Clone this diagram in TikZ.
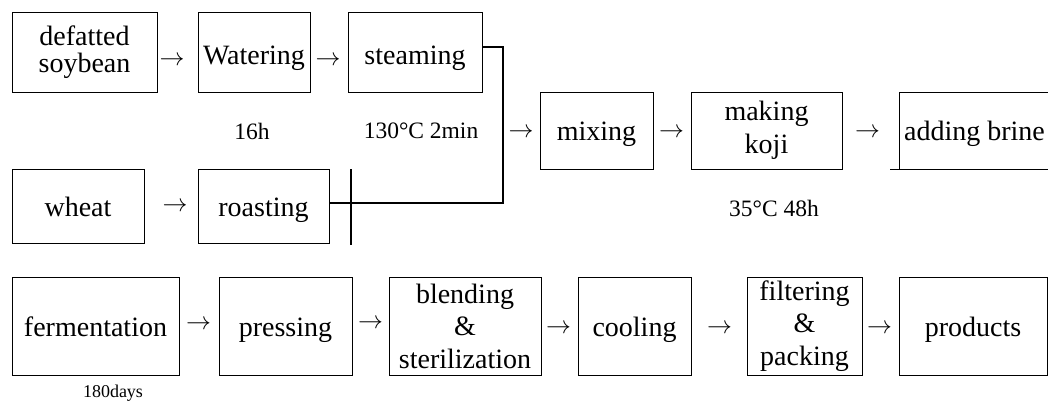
\documentclass[tikz,border=0pt]{standalone}
\usepackage{fontspec}
\setmainfont{Liberation Serif}
\usetikzlibrary{positioning}

\begin{document}
\begin{tikzpicture}[x=1pt,y=-1pt,
    box/.style={draw,line width=0.9pt,inner sep=0pt,align=center,
        font=\fontsize{28}{27}\selectfont},
    one/.style={text height=20pt,text depth=0pt},
    tall/.style={font=\fontsize{28}{32.5}\selectfont},
    lbl/.style={inner sep=0pt,font=\fontsize{23.5}{26}\selectfont},
    arr/.style={inner sep=0pt,font=\fontsize{24}{24}\selectfont},
    bar/.style={line width=2.2pt}]
    \useasboundingbox (0,0) rectangle (1048,401);
    % soybean and wheat lines
    \node[box,minimum width=145pt,minimum height=80pt] (soy) at (84.5,52) {defatted\\soybean};
    \node[box,one,text height=26pt,minimum width=112pt,minimum height=80pt] (water) at (254,52) {Watering};
    \node[box,one,text height=26pt,minimum width=134pt,minimum height=80pt] (steam) at (415,52) {steaming};
    \node[box,one,minimum width=132pt,minimum height=74pt] (wheat) at (78,206) {wheat};
    \node[box,one,minimum width=131pt,minimum height=74pt] (roast) at (263.5,206) {roasting};
    % koji line
    \node[box,one,minimum width=113pt,minimum height=77pt] (mix) at (596.5,130.5) {mixing};
    \node[box,tall,minimum width=151pt,minimum height=77pt] (koji) at (766.5,130.5) {making\\koji};
    \node[box,one,minimum width=151pt,minimum height=77pt] (brine) at (974.5,130.5) {adding brine};
    \draw[line width=0.9pt] (brine.south west) -- ++(-9,0);
    % bottom line
    \node[box,one,minimum width=167pt,minimum height=98pt] (ferment) at (95.5,326) {fermentation};
    \node[box,one,minimum width=133pt,minimum height=98pt] (press) at (285.5,326) {pressing};
    \node[box,tall,minimum width=152pt,minimum height=98pt] (blend) at (465,326) {blending\\\&\\sterilization};
    \node[box,one,minimum width=113pt,minimum height=98pt] (cool) at (634.5,326) {cooling};
    \node[box,tall,minimum width=115pt,minimum height=98pt] (filter) at (804.5,326) {filtering\\\&\\packing};
    \node[box,one,minimum width=148pt,minimum height=98pt] (product) at (973,326) {products};
    % arrows
    \foreach \n/\x/\y in {1/172/61, 2/328/61, 3/175/207, 4/521/133, 5/671.5/133,
        6/867.5/133, 7/198.5/325, 8/370.5/324, 9/558.5/329, 10/719.5/329, 11/879.5/329}
        \node[arr] (arr\n) at (\x,\y) {$\rightarrow$};
    % conditions
    \node[lbl] (t16) at (252,131) {16h};
    \node[lbl] (t130) at (421,131) {130°C 2min};
    \node[lbl] (t35) at (774,208) {35°C 48h};
    \node[lbl,font=\fontsize{18}{20}\selectfont] (t180) at (113,393) {180days};
    % joining lines
    \coordinate (jn) at (503,203);
    \coordinate (bt) at (351,169);
    \coordinate (bb) at (351,245);
    \draw[bar] ([yshift=5pt]steam.east) -| (jn) -- (jn -| roast.east);
    \draw[bar] (bt) -- (bb);
\end{tikzpicture}
\end{document}
